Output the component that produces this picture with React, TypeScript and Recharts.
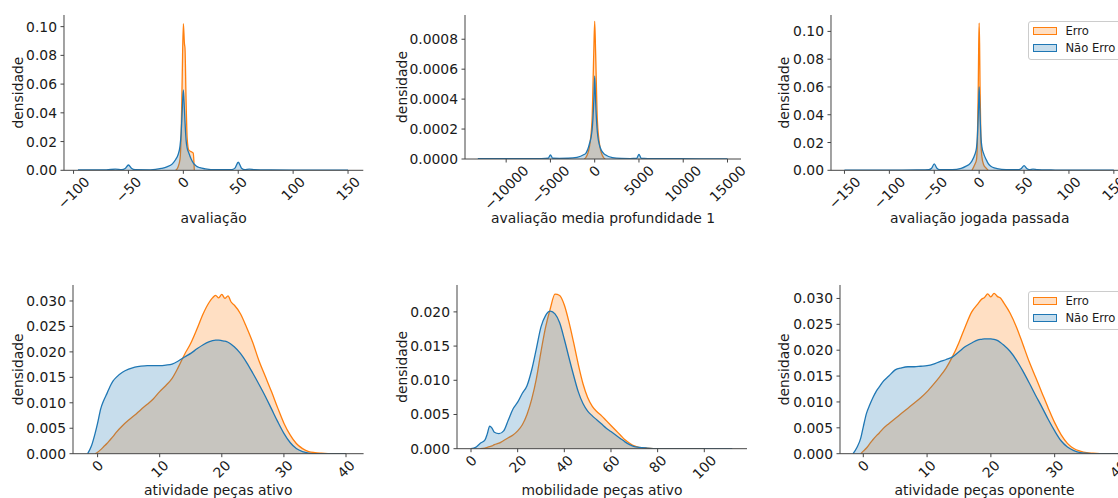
import React from 'react';
import { AreaChart, Area, XAxis, YAxis, Legend } from 'recharts';

// ---------- data ----------
const legendLabels = ['Erro', 'Não Erro'];

// avaliação
const avalX = [-96, -70, -62, -56, -53, -50, -47, -44, -30, -20, -15, -10, -7, -5, -3, -2, -1, 0, 1, 1.5, 2.5, 3.5, 5, 7, 9, 10, 12, 15, 20, 30, 44, 47, 50, 53, 56, 60, 65, 80, 100, 125, 150];
const avalErro = [null, null, null, null, null, null, null, null, null, null, null, null, 0, 0.002, 0.008, 0.025, 0.066, 0.102, 0.088, 0.085, 0.048, 0.022, 0.014, 0.013, 0.012, 0, null, null, null, null, null, null, null, null, null, null, null, null, null, null, null];
const avalNaoErro = [0.0002, 0.0003, 0.0008, 0.0004, 0.0012, 0.0037, 0.0012, 0.0004, 0.0003, 0.0013, 0.0024, 0.0045, 0.0075, 0.0105, 0.017, 0.026, 0.042, 0.056, 0.042, 0.034, 0.021, 0.0155, 0.012, 0.008, 0.0052, 0.0042, 0.0028, 0.0018, 0.001, 0.0004, 0.0004, 0.0015, 0.0056, 0.0015, 0.0005, 0.0008, 0.0004, 0.0002, 0.0001, 0.0001, 0.0001];
const avalXTicks = [-100, -50, 0, 50, 100, 150];
const avalYTicks = [0, 0.02, 0.04, 0.06, 0.08, 0.1];

// avaliação media profundidade 1
const mediaX = [-13200, -9000, -6000, -5250, -5000, -4750, -4000, -3000, -2000, -1200, -1000, -600, -300, -100, 0, 100, 300, 600, 1000, 1200, 2000, 3000, 4000, 4750, 5000, 5250, 6000, 9000, 12000, 15000];
const mediaErro = [null, null, null, null, null, null, null, null, null, 0, 0.00001, 0.00008, 0.00026, 0.00072, 0.00092, 0.00072, 0.00026, 0.00008, 0.00001, 0, null, null, null, null, null, null, null, null, null, null];
const mediaNaoErro = [0.000002, 0.000002, 0.000003, 0.000005, 0.000027, 0.000005, 0.000004, 0.000005, 0.000011, 0.00003, 0.000038, 0.0001, 0.00019, 0.00039, 0.000555, 0.00039, 0.00018, 0.00008, 0.000038, 0.000028, 0.000009, 0.000004, 0.000003, 0.000005, 0.000031, 0.000005, 0.000003, 0.000002, 0.000001, 0.000001];
const mediaXTicks = [-10000, -5000, 0, 5000, 10000, 15000];
const mediaYTicks = [0, 0.0002, 0.0004, 0.0006, 0.0008];

// avaliação jogada passada
const passadaX = [-150, -100, -70, -56, -53, -50, -47, -44, -30, -20, -15, -10, -8, -5, -3, -2, -1, -0.5, 0, 0.5, 1, 2, 3, 5, 8, 10, 12, 15, 20, 30, 44, 47, 50, 53, 56, 60, 65, 80, 100, 150];
const passadaErro = [null, null, null, null, null, null, null, null, null, null, null, null, 0, 0.004, 0.0075, 0.02, 0.06, 0.09, 0.106, 0.09, 0.06, 0.02, 0.01, 0.004, 0.0014, 0, null, null, null, null, null, null, null, null, null, null, null, null, null, null];
const passadaNaoErro = [0.0001, 0.0001, 0.0003, 0.0005, 0.0015, 0.0046, 0.0015, 0.0005, 0.0004, 0.0014, 0.0028, 0.005, 0.0068, 0.011, 0.016, 0.024, 0.04, 0.05, 0.06, 0.05, 0.04, 0.024, 0.017, 0.012, 0.0075, 0.005, 0.0034, 0.0022, 0.0012, 0.0004, 0.0004, 0.0013, 0.0034, 0.0013, 0.0005, 0.0008, 0.0004, 0.0002, 0.0001, 0.0001];
const passadaXTicks = [-150, -100, -50, 0, 50, 100, 150];
const passadaYTicks = [0, 0.02, 0.04, 0.06, 0.08, 0.1];

// atividade peças ativo
const ativX = [-1.6, -1, -0.4, 0, 0.5, 1, 1.5, 2, 2.5, 3, 4, 5, 6, 7, 8, 9, 10, 11, 12, 13, 14, 15, 16, 17, 18, 18.5, 19, 19.5, 20, 20.5, 21, 21.5, 22, 23, 24, 25, 26, 27, 28, 29, 30, 31, 32, 33, 34, 35, 36, 38, 40];
const ativErro = [null, null, 0, 0.0003, 0.0008, 0.0014, 0.002, 0.0027, 0.0034, 0.0042, 0.0055, 0.0066, 0.0076, 0.0087, 0.0097, 0.0108, 0.0122, 0.0134, 0.0148, 0.017, 0.0195, 0.0217, 0.0245, 0.0275, 0.0298, 0.0306, 0.0311, 0.0306, 0.0313, 0.0305, 0.031, 0.0298, 0.0292, 0.0275, 0.0248, 0.0218, 0.0182, 0.0152, 0.0122, 0.009, 0.006, 0.0037, 0.002, 0.001, 0.0004, 0.0002, 0.0001, 0, 0];
const ativNaoErro = [0, 0.0015, 0.004, 0.006, 0.0088, 0.0105, 0.0118, 0.0132, 0.0143, 0.015, 0.016, 0.0166, 0.017, 0.0172, 0.0173, 0.0173, 0.0173, 0.0174, 0.0176, 0.0182, 0.019, 0.0197, 0.0206, 0.0214, 0.022, 0.0222, 0.0223, 0.0223, 0.0222, 0.0221, 0.0219, 0.0215, 0.021, 0.0197, 0.0179, 0.0158, 0.0136, 0.0113, 0.0088, 0.0063, 0.004, 0.0022, 0.001, 0.0004, 0.0001, 0, 0, 0, 0];
const ativXTicks = [0, 10, 20, 30, 40];
const ativYTicks = [0, 0.005, 0.01, 0.015, 0.02, 0.025, 0.03];

// mobilidade peças ativo
const mobX = [0, 2, 4, 6, 7, 8, 9, 10, 12, 14, 16, 18, 20, 22, 24, 26, 28, 30, 32, 34, 36, 38, 40, 42, 44, 46, 48, 50, 52, 54, 56, 58, 60, 62, 64, 66, 68, 70, 72, 75, 80, 90, 100, 112];
const mobErro = [null, null, 0, 0.0001, 0.0002, 0.0003, 0.0004, 0.0006, 0.0008, 0.0012, 0.0016, 0.002, 0.0026, 0.0035, 0.005, 0.0072, 0.0102, 0.0142, 0.0178, 0.0205, 0.0226, 0.0224, 0.021, 0.0185, 0.0155, 0.0123, 0.0095, 0.0075, 0.0062, 0.0054, 0.0048, 0.0041, 0.0034, 0.0027, 0.002, 0.0013, 0.0008, 0.0004, 0.0002, 0.0001, 0, 0, 0, null];
const mobNaoErro = [0, 0.0002, 0.0008, 0.0013, 0.0022, 0.0033, 0.003, 0.0024, 0.0022, 0.0026, 0.0042, 0.0058, 0.0068, 0.0081, 0.0092, 0.0115, 0.0146, 0.0178, 0.0195, 0.0201, 0.0197, 0.0184, 0.016, 0.0133, 0.0107, 0.0083, 0.0066, 0.0055, 0.0048, 0.0042, 0.0036, 0.003, 0.0025, 0.002, 0.0015, 0.001, 0.0006, 0.0003, 0.0002, 0.0001, 0, 0, 0, 0];
const mobXTicks = [0, 20, 40, 60, 80, 100];
const mobYTicks = [0, 0.005, 0.01, 0.015, 0.02];

// atividade peças oponente
const opX = [-1.6, -1, -0.4, 0, 0.5, 1, 1.5, 2, 2.5, 3, 4, 5, 6, 7, 8, 9, 10, 11, 12, 13, 14, 15, 16, 17, 18, 18.5, 19, 19.5, 20, 20.5, 21, 21.5, 22, 23, 24, 25, 26, 27, 28, 29, 30, 31, 32, 33, 34, 35, 36, 38, 40];
const opErro = [null, null, 0, 0.0005, 0.0011, 0.0019, 0.0027, 0.0034, 0.004, 0.0047, 0.0058, 0.0068, 0.0078, 0.0088, 0.0098, 0.0108, 0.012, 0.0134, 0.0149, 0.0166, 0.0188, 0.0215, 0.0246, 0.0274, 0.029, 0.0298, 0.0302, 0.0309, 0.0303, 0.031, 0.0304, 0.0301, 0.0292, 0.0272, 0.0245, 0.0212, 0.0178, 0.0148, 0.0118, 0.0088, 0.006, 0.0037, 0.002, 0.001, 0.0005, 0.0002, 0.0001, 0, 0];
const opNaoErro = [0, 0.0012, 0.003, 0.0052, 0.0078, 0.0094, 0.0108, 0.012, 0.0129, 0.0138, 0.015, 0.0162, 0.0166, 0.0168, 0.0168, 0.0169, 0.017, 0.0173, 0.0178, 0.0182, 0.0187, 0.0197, 0.0207, 0.0214, 0.022, 0.0221, 0.0222, 0.0222, 0.0222, 0.0221, 0.0219, 0.0215, 0.021, 0.0198, 0.0181, 0.016, 0.0137, 0.0113, 0.009, 0.0066, 0.0044, 0.0025, 0.0013, 0.0006, 0.0002, 0.0001, 0, 0, 0];
const opXTicks = [0, 10, 20, 30, 40];
const opYTicks = [0, 0.005, 0.01, 0.015, 0.02, 0.025, 0.03];

// ---------- styling / layout ----------
const FONT = '"DejaVu Sans", "Noto Sans", sans-serif';
const ORANGE = '#ff7f0e';
const BLUE = '#1f77b4';
const TEXT = '#1a1a1a';
const AXIS = '#444';
const FS = 13.9;

const YW = 75;
const MT = 10;
const MR = 10;
const XH = 75;

const CHAR_W: Record<string, number> = {
  '0': 0.636, '1': 0.636, '2': 0.636, '3': 0.636, '4': 0.636,
  '5': 0.636, '6': 0.636, '7': 0.636, '8': 0.636, '9': 0.636,
  '.': 0.318, '\u2212': 0.838,
};
function textWidth(s: string, fs: number) {
  let w = 0;
  for (const c of s) w += CHAR_W[c] ?? 0.6;
  return w * fs;
}
function fmtX(v: number) {
  return v < 0 ? '\u2212' + Math.abs(v) : String(v);
}

function XTick(props: any) {
  const { x, y, payload } = props;
  const label = fmtX(payload.value);
  const w = textWidth(label, FS);
  const cy = y + 0.5 + (w + 14) * 0.3536;
  return (
    <text x={x} y={cy} transform={`rotate(-45 ${x} ${cy})`} textAnchor="middle"
      dominantBaseline="central" fontSize={FS} fontFamily={FONT} fill={TEXT}>
      {label}
    </text>
  );
}

function YTick(props: any) {
  const { x, y, payload, digits } = props;
  return (
    <text x={x} y={y} dy="0.36em" textAnchor="end" fontSize={FS} fontFamily={FONT} fill={TEXT}>
      {Number(payload.value).toFixed(digits)}
    </text>
  );
}

function PlacedText(props: any) {
  const { px, py, text, vertical } = props;
  return (
    <text x={px} y={py} transform={vertical ? `rotate(-90 ${px} ${py})` : undefined}
      textAnchor="middle" fontSize={FS} fontFamily={FONT} fill={TEXT}>
      {text}
    </text>
  );
}

function LegendBox() {
  const colors = [ORANGE, BLUE];
  const fills = ['rgba(255,127,14,0.25)', 'rgba(31,119,180,0.25)'];
  return (
    <div style={{
      border: '1px solid #cccccc', borderRadius: 3, background: 'rgba(255,255,255,0.8)',
      padding: '1px 8px 2.5px 3.4px', fontFamily: FONT, fontSize: 11.6, color: TEXT,
      whiteSpace: 'nowrap', boxSizing: 'content-box',
    }}>
      {legendLabels.map((n, i) => (
        <div key={n} style={{ height: 17, display: 'flex', alignItems: 'center' }}>
          <span style={{
            display: 'inline-block', width: 22, height: 5.7,
            border: `1.3px solid ${colors[i]}`, background: fills[i],
          }} />
          <span style={{ marginLeft: 8.7, lineHeight: '17px' }}>{n}</span>
        </div>
      ))}
    </div>
  );
}

type Cfg = {
  id: string; xs: number[]; erro: (number | null)[]; nao: (number | null)[];
  L: number; R: number; T: number; B: number;
  xDomain: [number, number]; yDomain: [number, number];
  xTicks: number[]; yTicks: number[]; yDigits: number;
  xLabel: string; yLabelX: number; xLabelY: number; legendTop?: number;
};

const panels: Cfg[] = [
  { id: 'p1', xs: avalX, erro: avalErro, nao: avalNaoErro, L: 64, R: 363.3, T: 15, B: 170.3,
    xDomain: [-108.7, 163.9], yDomain: [0, 0.1081], xTicks: avalXTicks, yTicks: avalYTicks, yDigits: 2,
    xLabel: 'avaliação', yLabelX: 23, xLabelY: 223 },
  { id: 'p2', xs: mediaX, erro: mediaErro, nao: mediaNaoErro, L: 465, R: 741, T: 15, B: 159,
    xDomain: [-14650, 16526], yDomain: [0, 0.000962], xTicks: mediaXTicks, yTicks: mediaYTicks, yDigits: 4,
    xLabel: 'avaliação media profundidade 1', yLabelX: 407, xLabelY: 222.5 },
  { id: 'p3', xs: passadaX, erro: passadaErro, nao: passadaNaoErro, L: 831, R: 1128.4, T: 15, B: 170.3,
    xDomain: [-165, 166.2], yDomain: [0, 0.1118], xTicks: passadaXTicks, yTicks: passadaYTicks, yDigits: 2,
    xLabel: 'avaliação jogada passada', yLabelX: 789, xLabelY: 223, legendTop: 20.7 },
  { id: 'p4', xs: ativX, erro: ativErro, nao: ativNaoErro, L: 72.7, R: 363.3, T: 285, B: 453.7,
    xDomain: [-3.96, 42.83], yDomain: [0, 0.03314], xTicks: ativXTicks, yTicks: ativYTicks, yDigits: 3,
    xLabel: 'atividade peças ativo', yLabelX: 23, xLabelY: 495 },
  { id: 'p5', xs: mobX, erro: mobErro, nao: mobNaoErro, L: 456.7, R: 746.7, T: 285, B: 448.7,
    xDomain: [-6, 118.3], yDomain: [0, 0.02393], xTicks: mobXTicks, yTicks: mobYTicks, yDigits: 3,
    xLabel: 'mobilidade peças ativo', yLabelX: 407, xLabelY: 495 },
  { id: 'p6', xs: opX, erro: opErro, nao: opNaoErro, L: 840, R: 1129, T: 285, B: 453.7,
    xDomain: [-3.65, 41.65], yDomain: [0, 0.0326], xTicks: opXTicks, yTicks: opYTicks, yDigits: 3,
    xLabel: 'atividade peças oponente', yLabelX: 789, xLabelY: 495, legendTop: 290.7 },
];

function Panel({ cfg }: { cfg: Cfg }) {
  const chartLeft = cfg.L - YW;
  const chartTop = cfg.T - MT;
  const width = cfg.R - cfg.L + YW + MR;
  const height = cfg.B - cfg.T + MT + XH;
  const rows = cfg.xs.map((x, i) => ({ x, erro: cfg.erro[i], naoErro: cfg.nao[i] }));
  const digits = cfg.yDigits;
  return (
    <div style={{ position: 'absolute', left: chartLeft, top: chartTop }}>
      <AreaChart width={width} height={height} data={rows}
        margin={{ top: MT, right: MR, left: 0, bottom: 0 }}>
        <XAxis dataKey="x" type="number" domain={cfg.xDomain} ticks={cfg.xTicks} allowDataOverflow
          interval={0} height={XH} tickSize={3.5} tickMargin={0}
          axisLine={{ stroke: AXIS, strokeWidth: 1 }} tickLine={{ stroke: AXIS, strokeWidth: 1 }}
          tick={(p: any) => <XTick {...p} />}
          label={<PlacedText px={(cfg.L + cfg.R) / 2 - chartLeft} py={cfg.xLabelY - chartTop} text={cfg.xLabel} />} />
        <YAxis type="number" domain={cfg.yDomain} ticks={cfg.yTicks} allowDataOverflow
          interval={0} width={YW} tickSize={3.5} tickMargin={3.5}
          axisLine={{ stroke: AXIS, strokeWidth: 1 }} tickLine={{ stroke: AXIS, strokeWidth: 1 }}
          tick={(p: any) => <YTick {...p} digits={digits} />}
          label={<PlacedText vertical px={cfg.yLabelX - chartLeft} py={(cfg.T + cfg.B) / 2 - chartTop} text="densidade" />} />
        <Area type="monotone" dataKey="erro" name={legendLabels[0]} stroke={ORANGE} strokeWidth={1.3}
          fill={ORANGE} fillOpacity={0.25} dot={false} activeDot={false} connectNulls={false}
          isAnimationActive={false} />
        <Area type="monotone" dataKey="naoErro" name={legendLabels[1]} stroke={BLUE} strokeWidth={1.3}
          fill={BLUE} fillOpacity={0.25} dot={false} activeDot={false} connectNulls={false}
          isAnimationActive={false} />
        {cfg.legendTop !== undefined && (
          <Legend layout="vertical" align="center" verticalAlign="middle"
            content={() => <LegendBox />}
            wrapperStyle={{ left: 1028.3 - chartLeft, top: cfg.legendTop - chartTop, width: 'auto', height: 'auto', right: 'auto', bottom: 'auto' }} />
        )}
      </AreaChart>
    </div>
  );
}

export default function App() {
  return (
    <div style={{ position: 'absolute', left: 0, top: 0, width: 1118, height: 498, overflow: 'hidden', background: '#ffffff', fontFamily: FONT }}>
      {panels.map((p) => <Panel key={p.id} cfg={p} />)}
    </div>
  );
}
